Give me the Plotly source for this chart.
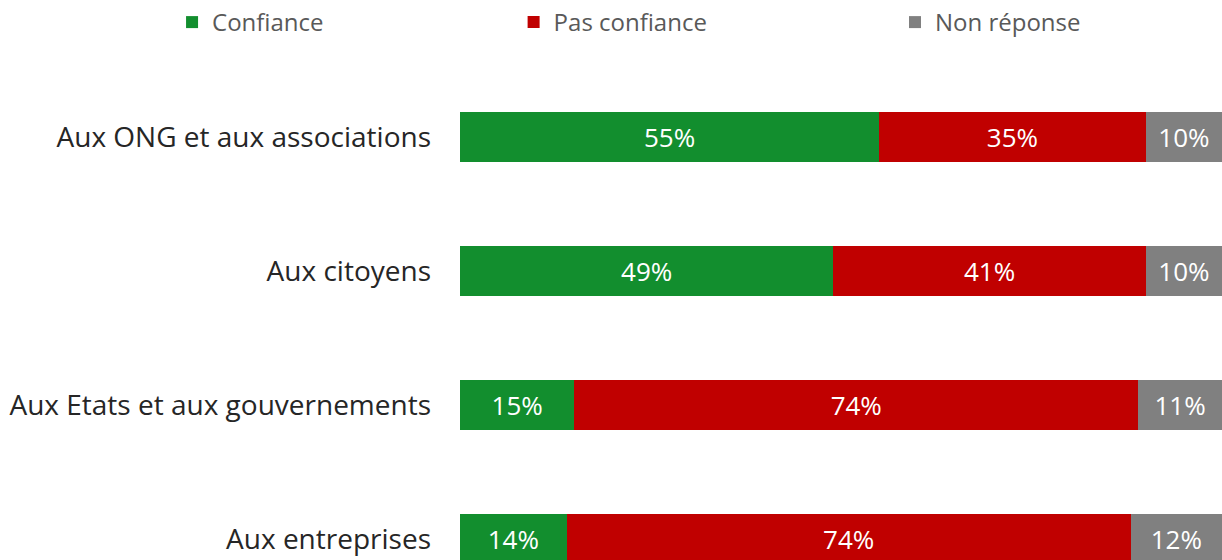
import plotly.graph_objects as go

categories = ["Aux ONG et aux associations", "Aux citoyens",
              "Aux Etats et aux gouvernements", "Aux entreprises"]
confiance = [55, 49, 15, 14]
pas_confiance = [35, 41, 74, 74]
non_reponse = [10, 10, 11, 12]

series = [
    ("Confiance", confiance, "#128E2E", "legend", 0.1408),
    ("Pas confiance", pas_confiance, "#C00000", "legend2", 0.4203),
    ("Non réponse", non_reponse, "#808080", "legend3", 0.7324),
]

FONT = "Open Sans"
fig = go.Figure()
for name, vals, color, leg, _ in series:
    fig.add_trace(go.Bar(
        y=categories, x=vals, name=name, orientation="h",
        marker=dict(color=color, line=dict(width=0)),
        text=[f"{v}%" for v in vals], textposition="inside",
        insidetextanchor="middle",
        textfont=dict(color="white", size=26, family=FONT),
        width=0.38, legend=leg,
    ))

layout_legends = {}
for name, vals, color, leg, xpos in series:
    layout_legends[leg] = dict(
        x=xpos, y=1.0, xref="container", yref="container",
        xanchor="left", yanchor="top", orientation="h",
        font=dict(size=24, color="#595959", family=FONT),
        bgcolor="rgba(0,0,0,0)", borderwidth=0,
    )

fig.update_layout(
    barmode="stack",
    width=1222, height=560,
    margin=dict(l=460, r=0, t=70, b=0),
    plot_bgcolor="white", paper_bgcolor="white",
    xaxis=dict(range=[0, 100], visible=False, fixedrange=True),
    yaxis=dict(
        categoryorder="array", categoryarray=categories,
        range=[3.157, -0.5], showgrid=False, zeroline=False,
        showline=False, ticks="", ticklabelstandoff=28,
        tickfont=dict(size=28, color="#262626", family=FONT),
    ),
    showlegend=True,
    **layout_legends,
)

fig.write_html(
    "out.html",
    config={"displayModeBar": False},
    post_script="document.body.style.margin='0';"
                "document.body.style.overflow='hidden';"
                "document.documentElement.style.overflow='hidden';",
)
